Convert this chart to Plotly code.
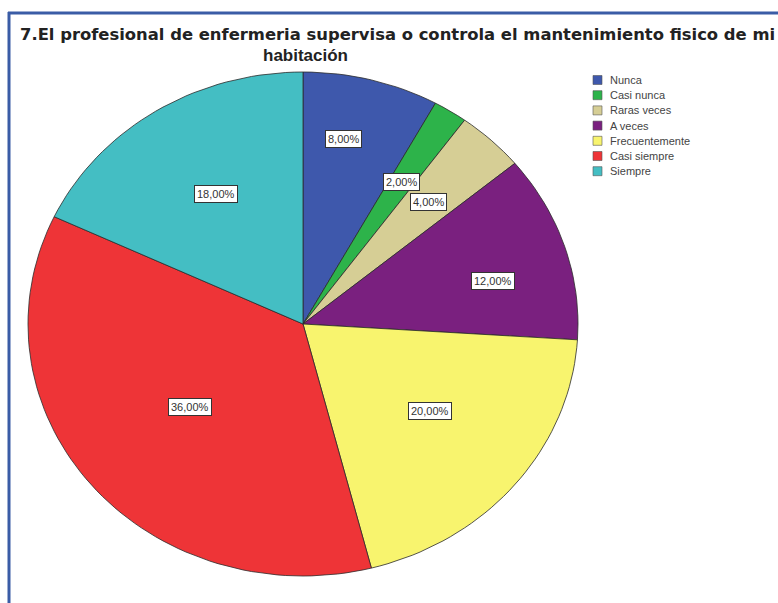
import math
import plotly.graph_objects as go

# Response categories and their share of answers (%)
categories = ["Nunca", "Casi nunca", "Raras veces", "A veces",
              "Frecuentemente", "Casi siempre", "Siempre"]
percentages = [8.0, 2.0, 4.0, 12.0, 20.0, 36.0, 18.0]
colors = ["#3E58AC", "#2DB34A", "#D6CE95", "#7A207F",
          "#F8F46E", "#EE3437", "#44BEC3"]

title_line1 = "7.El profesional de enfermeria supervisa o controla el mantenimiento fisico de mi"
title_line2 = "habitación"

W, H = 778, 603
# Elliptical pie geometry (canvas units)
CX, CY, RX, RY = 303.0, 324.0, 275.0, 252.0
# small manual offsets for the value boxes (dx, dy)
label_shift = [(-5, -24), (0, 0), (0, 0), (20, 8), (-5, -13), (0, -3), (6, 4)]


def fmt(v):
    return f"{v:.2f}".replace(".", ",") + "%"


def point(t, frac=1.0):
    return CX + RX * frac * math.sin(t), CY - RY * frac * math.cos(t)


fig = go.Figure()

total = sum(percentages)
start = 0.0
annotations = []
for i, (cat, val, col) in enumerate(zip(categories, percentages, colors)):
    a0 = 2 * math.pi * start / total
    a1 = 2 * math.pi * (start + val) / total
    n = max(4, int(200 * val / total))
    xs, ys = [CX], [CY]
    for k in range(n + 1):
        px, py = point(a0 + (a1 - a0) * k / n)
        xs.append(px)
        ys.append(py)
    xs.append(CX)
    ys.append(CY)
    fig.add_trace(go.Scatter(
        x=xs, y=ys, mode="lines", fill="toself", fillcolor=col,
        line=dict(color="#2b2b2b", width=0.8), name=cat,
        hoverinfo="name", showlegend=False))

    # value box at the sector centroid
    span = a1 - a0
    frac = 4 * math.sin(span / 2) / (3 * span)
    lx, ly = point((a0 + a1) / 2, frac)
    dx, dy = label_shift[i]
    annotations.append(dict(
        x=lx + dx, y=ly + dy, xref="x", yref="y", text=fmt(val),
        showarrow=False, bgcolor="white", bordercolor="#333333",
        borderwidth=1, borderpad=2,
        font=dict(family="Liberation Sans, Arial", size=11, color="#333333")))
    start += val

# Legend drawn as swatches with labels
shapes = []
for i, (cat, col) in enumerate(zip(categories, colors)):
    yc = 80 + 15.2 * i
    shapes.append(dict(type="rect", xref="x", yref="y",
                       x0=593, x1=602, y0=yc - 4.5, y1=yc + 4.5,
                       fillcolor=col, line=dict(color="#555555", width=0.6)))
    annotations.append(dict(
        x=608, y=yc, xref="x", yref="y", text=cat, showarrow=False,
        xanchor="left", yanchor="middle",
        font=dict(family="Liberation Sans, Arial", size=11, color="#444444")))

# Title lines
annotations.append(dict(
    x=397, y=34.5, xref="x", yref="y", text="<b>" + title_line1 + "</b>",
    showarrow=False, xanchor="center", yanchor="middle", borderpad=0,
    font=dict(family="DejaVu Sans", size=16.4, color="#222222")))
annotations.append(dict(
    x=305, y=55.5, xref="x", yref="y", text="<b>" + title_line2 + "</b>",
    showarrow=False, xanchor="center", yanchor="middle", borderpad=0,
    font=dict(family="Liberation Sans, Arial", size=17, color="#222222")))

# Blue frame on the left and top edges
frame_col = "#3A5CA6"
shapes.append(dict(type="line", xref="x", yref="y", x0=9, x1=9, y0=12, y1=H + 5,
                   line=dict(color=frame_col, width=3)))
shapes.append(dict(type="line", xref="x", yref="y", x0=8, x1=W + 5, y0=13, y1=13,
                   line=dict(color=frame_col, width=3)))

fig.update_layout(
    width=W, height=H, margin=dict(l=0, r=0, t=0, b=0),
    paper_bgcolor="white", plot_bgcolor="white",
    xaxis=dict(range=[0, W], visible=False, fixedrange=True),
    yaxis=dict(range=[H, 0], visible=False, fixedrange=True),
    annotations=annotations, shapes=shapes, showlegend=False)

fig.write_html("out.html")
